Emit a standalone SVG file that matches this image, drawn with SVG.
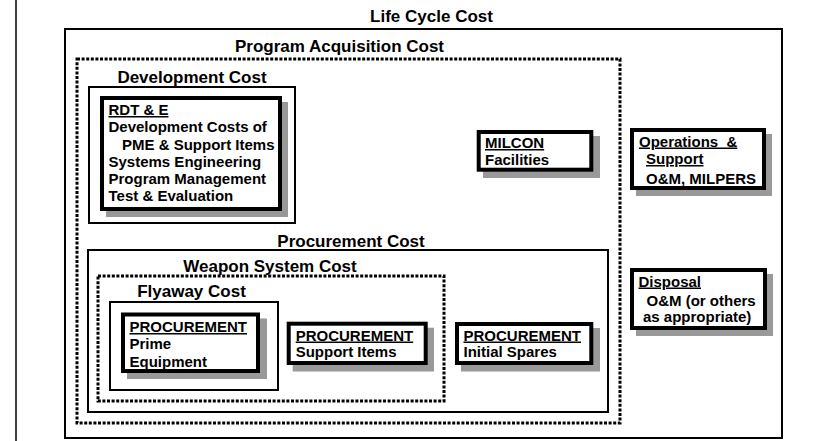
<svg xmlns="http://www.w3.org/2000/svg" width="824" height="441" viewBox="0 0 824 441">
<style>
text { font-family: "Liberation Sans", Arial, Helvetica, sans-serif; font-weight: bold; fill: #000; }
.title { font-size: 17px; text-anchor: middle; }
.body { font-size: 15px; }
.u { text-decoration: underline; }
.frame { fill: #fff; stroke: #000; stroke-width: 2; }
.dot { fill: none; stroke: #000; stroke-width: 3; stroke-dasharray: 3 1.6; }
.box { fill: #fff; stroke: #000; stroke-width: 4; }
.shadow { fill: #999; stroke: none; }
</style>
<rect x="0" y="0" width="824" height="441" fill="#fff"/>
<line x1="16" y1="0" x2="16" y2="441" stroke="#000" stroke-width="1.5"/>

<g id="life-cycle-cost">
  <text class="title" x="431.5" y="21.5">Life Cycle Cost</text>
  <rect class="frame" x="65" y="29" width="717" height="409"/>
</g>

<g id="program-acquisition-cost">
  <text class="title" x="339.5" y="52.3">Program Acquisition Cost</text>
  <rect class="dot" x="77" y="59" width="543" height="364"/>
</g>

<g id="development-cost">
  <text class="title" x="192" y="82.7">Development Cost</text>
  <rect class="frame" x="89" y="87" width="206" height="136"/>
</g>

<g id="rdte">
  <rect class="shadow" x="106" y="102" width="182" height="115"/>
  <rect class="box" x="102" y="98" width="178" height="111"/>
  <text class="body u" x="108.5" y="115">RDT &amp; E</text>
  <text class="body" x="108.5" y="132.3">Development Costs of</text>
  <text class="body" x="122" y="149.5">PME &amp; Support Items</text>
  <text class="body" x="108.5" y="166.7">Systems Engineering</text>
  <text class="body" x="108.5" y="183.9">Program Management</text>
  <text class="body" x="108.5" y="201.1">Test &amp; Evaluation</text>
</g>

<g id="milcon">
  <rect class="shadow" x="483" y="136" width="117" height="42"/>
  <rect class="box" x="478.7" y="132" width="112.6" height="37.7"/>
  <text class="body u" x="485" y="148">MILCON</text>
  <text class="body" x="485" y="165">Facilities</text>
</g>

<g id="operations-support">
  <rect class="shadow" x="636" y="134" width="136" height="62"/>
  <rect class="box" x="632" y="130" width="132" height="58"/>
  <text class="body u" x="639" y="146.5" xml:space="preserve">Operations  &amp;</text>
  <text class="body u" x="646" y="164">Support</text>
  <text class="body" x="646" y="184">O&amp;M, MILPERS</text>
</g>

<g id="disposal">
  <rect class="shadow" x="636" y="274" width="137" height="62"/>
  <rect class="box" x="632" y="270" width="133" height="58"/>
  <text class="body u" x="638.5" y="286.5">Disposal</text>
  <text class="body" x="646.5" y="306">O&amp;M (or others</text>
  <text class="body" x="643" y="322">as appropriate)</text>
</g>

<g id="procurement-cost">
  <text class="title" x="351" y="246.5">Procurement Cost</text>
  <rect class="frame" x="88" y="250" width="520" height="162"/>
</g>

<g id="weapon-system-cost">
  <text class="title" x="270" y="271.5">Weapon System Cost</text>
  <rect class="dot" x="98" y="276" width="346" height="125"/>
</g>

<g id="flyaway-cost">
  <text class="title" x="191.5" y="297">Flyaway Cost</text>
  <rect class="frame" x="110" y="302" width="168" height="88"/>
</g>

<g id="procurement-prime">
  <rect class="shadow" x="127" y="318.5" width="140" height="60.5"/>
  <rect class="box" x="123" y="314.5" width="135" height="56.5"/>
  <text class="body u" x="129.5" y="332">PROCUREMENT</text>
  <text class="body" x="129.5" y="348.5">Prime</text>
  <text class="body" x="129.5" y="366.5">Equipment</text>
</g>

<g id="procurement-support">
  <rect class="shadow" x="292.7" y="327.7" width="141.3" height="43.8"/>
  <rect class="box" x="288.7" y="323.7" width="137" height="39.3"/>
  <text class="body u" x="295.7" y="340.5">PROCUREMENT</text>
  <text class="body" x="295.7" y="357">Support Items</text>
</g>

<g id="procurement-spares">
  <rect class="shadow" x="461" y="328" width="139" height="43.5"/>
  <rect class="box" x="457" y="324" width="134.3" height="39"/>
  <text class="body u" x="463.5" y="340.5">PROCUREMENT</text>
  <text class="body" x="463.5" y="357">Initial Spares</text>
</g>
</svg>
